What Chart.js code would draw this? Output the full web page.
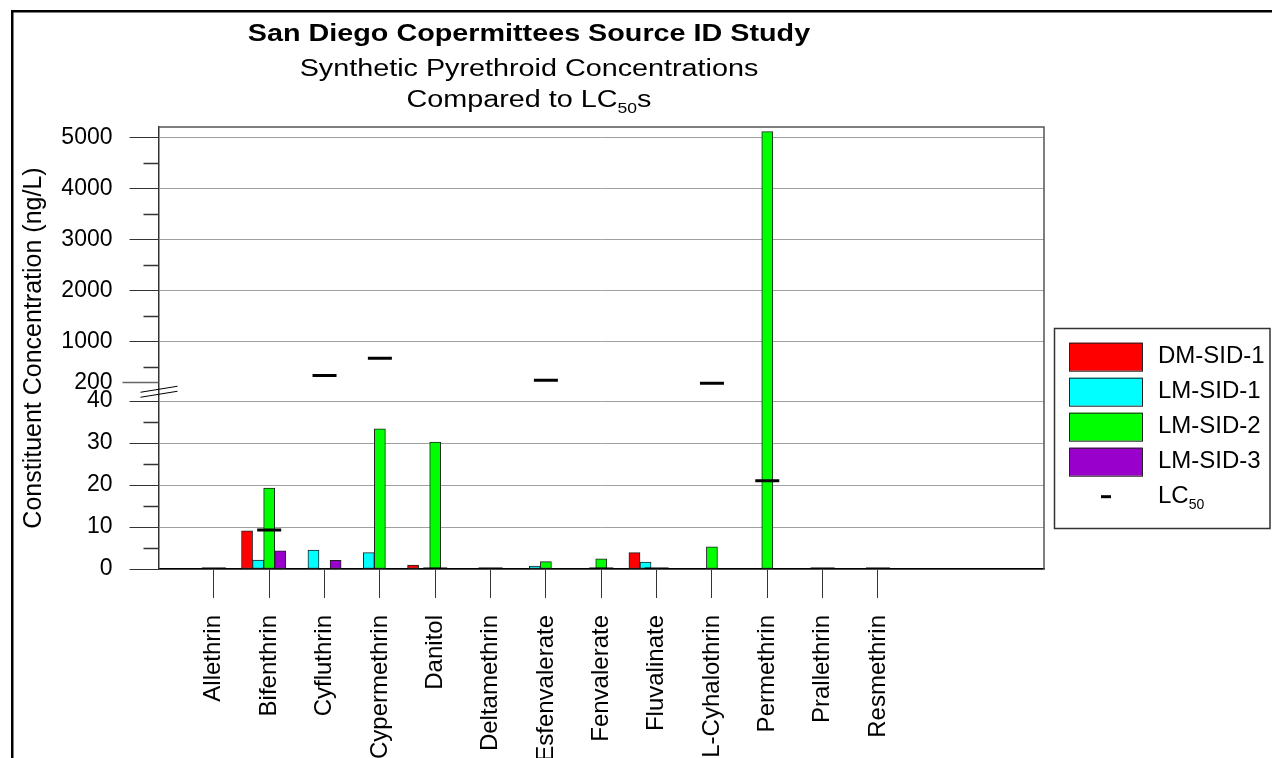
<!DOCTYPE html>
<html>
<head>
<meta charset="utf-8">
<script src="https://cdn.jsdelivr.net/npm/chart.js@4.4.1/dist/chart.umd.min.js"></script>
<style>
  html, body { margin: 0; padding: 0; background: #fff; }
  #wrap { width: 1272px; height: 758px; position: relative; }
</style>
</head>
<body>
<div id="wrap"><canvas id="canvas" width="1272" height="758"></canvas></div>
<script>
const compounds = ['Allethrin', 'Bifenthrin', 'Cyfluthrin', 'Cypermethrin', 'Danitol', 'Deltamethrin',
  'Esfenvalerate', 'Fenvalerate', 'Fluvalinate', 'L-Cyhalothrin', 'Permethrin', 'Prallethrin', 'Resmethrin'];

// concentrations, ng/L
const dmSid1 = [0, 9.1, 0, 0, 0.95, 0, 0, 0, 3.9, 0, 0, 0, 0];
const lmSid1 = [0, 2.1, 4.5, 3.9, 0, 0, 0.7, 0, 1.65, 0, 0, 0, 0];
const lmSid2 = [0, 19.3, 0, 33.4, 30.2, 0, 1.75, 2.4, 0, 5.3, 5110, 0, 0];
const lmSid3 = [0, 4.3, 2.05, 0, 0, 0, 0, 0, 0, 0, 0, 0, 0];
const lc50 = [0, 9.3, 336, 675, 0, 0, 246, 0, 0, 193, 21, 0, 0];

const yTicks = [0, 10, 20, 30, 40, 200, 1000, 2000, 3000, 4000, 5000];
const yMinorTicks = [5, 15, 25, 35, 500, 1500, 2500, 3500, 4500];

const FONT = "'Liberation Sans', Arial, sans-serif";

// axis runs from an empty slot before Allethrin to three empty slots after Resmethrin
const xLabels = [''].concat(compounds, ['', '', '']);
const pad = arr => [null].concat(arr, [null, null, null]);

// broken y axis: 0-40 at the bottom, 200-5000 above the break
const BREAK_LO = 40, BREAK_HI = 200, Y_MAX = 5200;
const LOW_PART = 0.38, GAP_PART = 0.042;
const HIGH_PART = 1 - LOW_PART - GAP_PART;

function valueToDecimal(v) {
  if (v <= BREAK_LO) return v / BREAK_LO * LOW_PART;
  if (v < BREAK_HI) return LOW_PART + (v - BREAK_LO) / (BREAK_HI - BREAK_LO) * GAP_PART;
  return LOW_PART + GAP_PART + (v - BREAK_HI) / (Y_MAX - BREAK_HI) * HIGH_PART;
}
function decimalToValue(d) {
  if (d <= LOW_PART) return d / LOW_PART * BREAK_LO;
  if (d < LOW_PART + GAP_PART) return BREAK_LO + (d - LOW_PART) / GAP_PART * (BREAK_HI - BREAK_LO);
  return BREAK_HI + (d - LOW_PART - GAP_PART) / HIGH_PART * (Y_MAX - BREAK_HI);
}

class BrokenScale extends Chart.LinearScale {
  getPixelForValue(value) {
    if (value === null || value === undefined || isNaN(value)) return NaN;
    return this.getPixelForDecimal(valueToDecimal(value));
  }
  getValueForPixel(pixel) {
    return decimalToValue(this.getDecimalForPixel(pixel));
  }
  buildTicks() {
    return yTicks.map(v => ({ value: v }));
  }
}
BrokenScale.id = 'broken';
BrokenScale.defaults = Chart.LinearScale.defaults;
Chart.register(BrokenScale);

// text with optional subscript runs, stretched horizontally by sx
function drawRich(ctx, parts, cx, baseline, size, weight, sx) {
  ctx.save();
  const subSize = Math.round(size * 0.6);
  let w = 0;
  parts.forEach(p => {
    ctx.font = weight + ' ' + (p.sub ? subSize : size) + 'px ' + FONT;
    p.w = ctx.measureText(p.t).width;
    w += p.w;
  });
  ctx.translate(cx, baseline);
  ctx.scale(sx, 1);
  let x = -w / 2;
  ctx.fillStyle = '#000';
  ctx.textBaseline = 'alphabetic';
  ctx.textAlign = 'left';
  parts.forEach(p => {
    ctx.font = weight + ' ' + (p.sub ? subSize : size) + 'px ' + FONT;
    ctx.fillText(p.t, x, p.sub ? size * 0.28 : 0);
    x += p.w;
  });
  ctx.restore();
  return w * sx;
}

const decorations = {
  id: 'decorations',
  afterDraw(chart) {
    const ctx = chart.ctx;
    const area = chart.chartArea;
    const y = chart.scales.y;

    ctx.save();
    // outer frame
    ctx.fillStyle = '#000';
    ctx.fillRect(11, 10, chart.width - 11, 2.5);
    ctx.fillRect(11, 10, 2.5, chart.height - 10);

    // plot frame, top and right
    ctx.strokeStyle = '#555';
    ctx.lineWidth = 1.5;
    ctx.beginPath();
    ctx.moveTo(area.left, area.top);
    ctx.lineTo(area.right, area.top);
    ctx.lineTo(area.right, area.bottom);
    ctx.stroke();

    // minor ticks
    ctx.strokeStyle = '#333';
    ctx.lineWidth = 1.5;
    yMinorTicks.forEach(v => {
      const py = Math.round(y.getPixelForValue(v)) + 0.5;
      ctx.beginPath();
      ctx.moveTo(area.left - 15, py);
      ctx.lineTo(area.left, py);
      ctx.stroke();
    });

    // longer tick at the first value above the break
    const p200 = Math.round(y.getPixelForValue(BREAK_HI)) + 0.5;
    ctx.strokeStyle = '#666';
    ctx.beginPath();
    ctx.moveTo(area.left - 36, p200);
    ctx.lineTo(area.left, p200);
    ctx.stroke();

    // break marks
    const pb = y.getPixelForValue((BREAK_LO + BREAK_HI) / 2);
    ctx.strokeStyle = '#000';
    ctx.lineWidth = 1;
    [-2.5, 2.5].forEach(d => {
      ctx.beginPath();
      ctx.moveTo(area.left - 18, pb + d + 3);
      ctx.lineTo(area.left + 19, pb + d - 3);
      ctx.stroke();
    });

    // titles
    const tx = 529;
    drawRich(ctx, [{ t: 'San Diego Copermittees Source ID Study' }], tx, 41, 23, 'bold', 1.25);
    drawRich(ctx, [{ t: 'Synthetic Pyrethroid Concentrations' }], tx, 76, 23, 'normal', 1.25);
    drawRich(ctx, [{ t: 'Compared to LC' }, { t: '50', sub: true }, { t: 's' }], tx, 106.5, 23, 'normal', 1.25);

    // legend
    const lx = 1054.5, ly = 328.5, lw = 215.5, lh = 200;
    ctx.strokeStyle = '#333';
    ctx.lineWidth = 1.5;
    ctx.strokeRect(lx, ly, lw, lh);
    const items = chart.data.datasets.filter(ds => ds.label);
    items.forEach((ds, i) => {
      const top = 342.7 + i * 35;
      const cy = top + 14;
      if (ds.type === 'line') {
        ctx.fillStyle = '#000';
        ctx.fillRect(1101, cy - 1.5, 10, 3);
        ctx.textAlign = 'left';
        ctx.font = '24px ' + FONT;
        ctx.textBaseline = 'middle';
        ctx.fillText('LC', 1158, cy);
        const w = ctx.measureText('LC').width;
        ctx.font = '14px ' + FONT;
        ctx.fillText('50', 1158 + w, cy + 8);
      } else {
        ctx.fillStyle = ds.backgroundColor;
        ctx.fillRect(1069.5, top, 73, 28);
        ctx.strokeStyle = '#222';
        ctx.lineWidth = 1;
        ctx.strokeRect(1069.5, top + 0.5, 73, 28);
        ctx.fillStyle = '#000';
        ctx.font = '24px ' + FONT;
        ctx.textAlign = 'left';
        ctx.textBaseline = 'middle';
        ctx.fillText(ds.label, 1158, cy);
      }
    });
    ctx.restore();
  }
};

function barSet(label, values, color) {
  return {
    type: 'bar', label: label, data: pad(values), order: 1,
    backgroundColor: color, borderColor: '#222', borderWidth: 1, borderSkipped: false
  };
}

new Chart(document.getElementById('canvas'), {
  type: 'bar',
  data: {
    labels: xLabels,
    datasets: [
      barSet('DM-SID-1', dmSid1, '#ff0000'),
      barSet('LM-SID-1', lmSid1, '#00ffff'),
      barSet('LM-SID-2', lmSid2, '#00ff00'),
      barSet('LM-SID-3', lmSid3, '#9900cc'),
      // empty fifth slot in each group
      { type: 'bar', label: '', data: pad(compounds.map(() => null)), order: 1 },
      {
        type: 'line', label: 'LC50', data: pad(lc50), order: 0,
        showLine: false, pointStyle: 'line', pointRadius: 12, pointHoverRadius: 12,
        borderColor: '#000', pointBorderWidth: 3, backgroundColor: '#000'
      }
    ]
  },
  options: {
    responsive: false,
    animation: false,
    events: [],
    layout: { padding: { top: 127, right: 228, bottom: 0, left: 0 } },
    datasets: { bar: { categoryPercentage: 1, barPercentage: 1 } },
    plugins: { legend: { display: false }, tooltip: { enabled: false }, title: { display: false } },
    scales: {
      x: {
        type: 'category',
        offset: false,
        grid: {
          display: true, drawOnChartArea: false, offset: false, tickLength: 29,
          tickColor: c => (c.index >= 1 && c.index <= compounds.length) ? '#333' : 'rgba(0,0,0,0)'
        },
        border: { color: '#000', width: 1.5 },
        ticks: {
          autoSkip: false, maxRotation: 90, minRotation: 90, padding: 17, color: '#000',
          font: { family: FONT, size: 24 }
        },
        afterFit: s => { s.height = 189; }
      },
      y: {
        type: 'broken',
        min: 0,
        max: Y_MAX,
        grid: {
          color: c => (c.tick && c.tick.value === BREAK_HI) ? 'rgba(0,0,0,0)' : '#a0a0a0',
          tickColor: c => (c.tick && c.tick.value === BREAK_HI) ? 'rgba(0,0,0,0)' : '#333',
          tickLength: 29, lineWidth: 1
        },
        border: { color: '#333', width: 1.5 },
        ticks: {
          autoSkip: false, padding: 17, color: '#000',
          font: { family: FONT, size: 23 },
          callback: v => String(v)
        },
        title: {
          display: true, text: 'Constituent Concentration (ng/L)', color: '#000',
          font: { family: FONT, size: 25 }, padding: { top: 19, bottom: 0 }
        },
        afterFit: s => { s.width = 158.5; }
      }
    }
  },
  plugins: [decorations]
});
</script>
</body>
</html>
